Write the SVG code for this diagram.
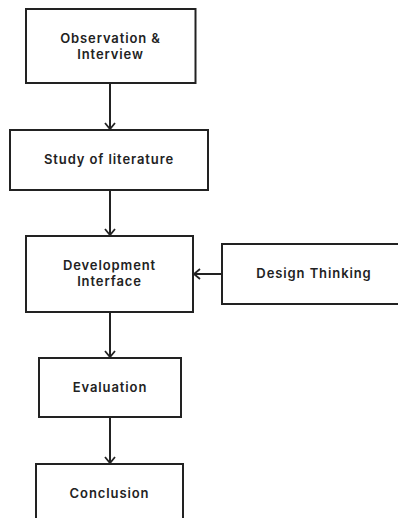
<svg xmlns="http://www.w3.org/2000/svg" width="398" height="518" viewBox="0 0 398 518">
<defs>
<marker id="arr" viewBox="0 0 12 12" refX="10" refY="6" markerWidth="12" markerHeight="12" markerUnits="userSpaceOnUse" orient="auto">
<path d="M4,1 L10,6 L4,11" fill="none" stroke="#222" stroke-width="1.8"/>
</marker>
</defs>
<style>
.box{fill:#fff;stroke:#222;stroke-width:2}
.t{font-family:Inter,"Liberation Sans",sans-serif;font-weight:600;font-size:13px;letter-spacing:0.9px;fill:#222;text-anchor:middle}
.c{fill:none;stroke:#222;stroke-width:2;marker-end:url(#arr)}
</style>
<rect width="398" height="518" fill="#fff"/>
<g id="connectors">
<line class="c" x1="110" y1="83" x2="110" y2="129"/>
<line class="c" x1="110" y1="190" x2="110" y2="235"/>
<line class="c" x1="222" y1="274" x2="194" y2="274"/>
<line class="c" x1="110" y1="312" x2="110" y2="357"/>
<line class="c" x1="110" y1="417" x2="110" y2="463"/>
</g>
<g id="observation">
<rect class="box" x="26" y="9" width="169.5" height="74"/>
<text class="t" x="110.5" y="42.5">Observation &amp;</text>
<text class="t" x="110.5" y="58.5">Interview</text>
</g>
<g id="literature">
<rect class="box" x="10" y="130" width="198" height="60"/>
<text class="t" x="109" y="164">Study of literature</text>
</g>
<g id="development">
<rect class="box" x="26" y="236" width="167" height="76"/>
<text class="t" x="109.5" y="269.5">Development</text>
<text class="t" x="109.5" y="285.5">Interface</text>
</g>
<g id="design">
<rect class="box" x="222" y="244" width="190" height="60"/>
<text class="t" x="314" y="278">Design Thinking</text>
</g>
<g id="evaluation">
<rect class="box" x="39" y="358" width="142" height="59"/>
<text class="t" x="110" y="392">Evaluation</text>
</g>
<g id="conclusion">
<rect class="box" x="36" y="464" width="147" height="70"/>
<text class="t" x="109.5" y="498">Conclusion</text>
</g>
</svg>
